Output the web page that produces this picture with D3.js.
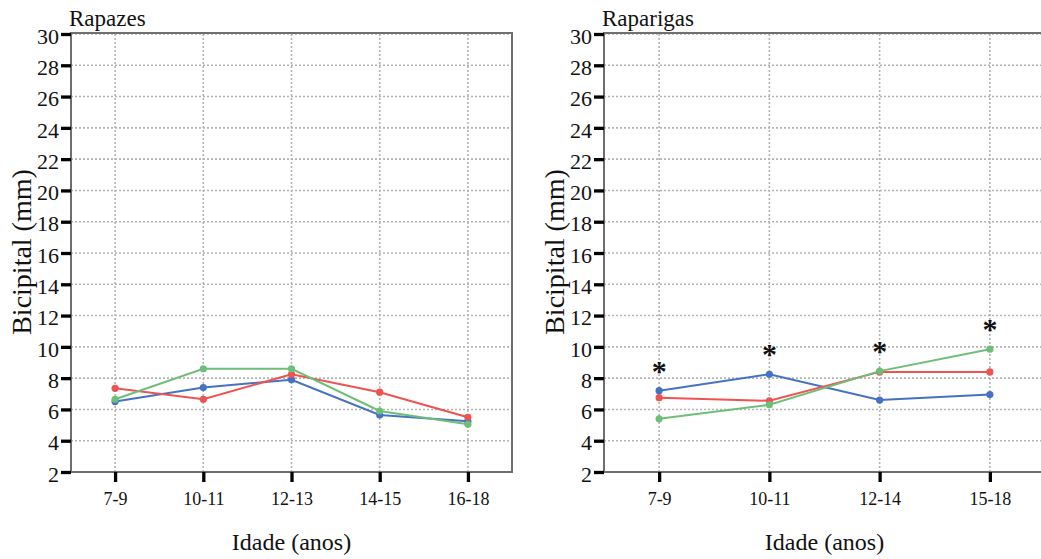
<!DOCTYPE html>
<html><head><meta charset="utf-8">
<script src="https://cdn.jsdelivr.net/npm/d3@7"></script>
</head>
<body style="margin:0;background:#fff"><svg id="chart" width="1041" height="559"></svg>
<script>
const yTicks = [2,4,6,8,10,12,14,16,18,20,22,24,26,28,30];

const boysTitle = "Rapazes";
const boysCategories = ["7-9","10-11","12-13","14-15","16-18"];
const boysBlue  = [6.5, 7.4, 7.9, 5.65, 5.25];
const boysRed   = [7.35, 6.65, 8.25, 7.1, 5.5];
const boysGreen = [6.65, 8.6, 8.6, 5.9, 5.05];
const boysStars = [false,false,false,false,false];

const girlsTitle = "Raparigas";
const girlsCategories = ["7-9","10-11","12-14","15-18"];
const girlsBlue  = [7.2, 8.25, 6.6, 6.95];
const girlsRed   = [6.75, 6.55, 8.4, 8.4];
const girlsGreen = [5.4, 6.3, 8.45, 9.85];
const girlsStars = [true,true,true,true];

const yLabel = "Bicipital (mm)";
const xLabel = "Idade (anos)";
const colors = {blue:"#4472C4", red:"#EF5350", green:"#6DBF78"};
const FONT = "Liberation Serif";

const svg = d3.select("#chart");

function panel(left, title, cats, series, stars){
  const W = 441, top = 34, bottom = 472;
  const g = svg.append("g");
  const x = d3.scalePoint().domain(cats).range([left, left+W]).padding(0.5);
  const y = d3.scaleLinear().domain([2,30]).range([bottom, top]);

  // grid
  g.append("g").selectAll("line").data(yTicks).join("line")
    .attr("x1", left).attr("x2", left+W).attr("y1", d=>y(d)).attr("y2", d=>y(d))
    .attr("stroke","#b4b4b4").attr("stroke-width",1.6).attr("stroke-dasharray","2,2");
  g.append("g").selectAll("line").data(cats).join("line")
    .attr("x1", d=>x(d)).attr("x2", d=>x(d)).attr("y1", top).attr("y2", bottom)
    .attr("stroke","#b4b4b4").attr("stroke-width",1.6).attr("stroke-dasharray","2,2");

  // frame
  g.append("rect").attr("x",left).attr("y",top-1).attr("width",W).attr("height",bottom-top+1)
    .attr("fill","none").attr("stroke","#6e6e6e").attr("stroke-width",2);

  // y axis
  const ya = g.append("g").attr("transform",`translate(${left},0)`)
    .call(d3.axisLeft(y).tickValues(yTicks).tickSize(10).tickPadding(2));
  ya.select(".domain").remove();
  ya.selectAll(".tick line").attr("stroke","#000").attr("stroke-width",3.3);
  ya.selectAll(".tick text").style("font-family",FONT).style("font-size","22px").attr("fill","#111").attr("dy","0.42em");

  // x axis
  const xa = g.append("g").attr("transform",`translate(0,${bottom})`)
    .call(d3.axisBottom(x).tickSize(10).tickPadding(10));
  xa.select(".domain").remove();
  xa.selectAll(".tick line").attr("stroke","#000").attr("stroke-width",3.3);
  xa.selectAll(".tick text").style("font-family",FONT).style("font-size","18px").attr("fill","#111");

  // lines
  const line = d3.line().x((d,i)=>x(cats[i])).y(d=>y(d));
  series.forEach(s=>{
    g.append("path").datum(s.values).attr("d",line).attr("fill","none")
      .attr("stroke",s.color).attr("stroke-width",2);
  });
  series.forEach(s=>{
    g.append("g").selectAll("circle").data(s.values).join("circle")
      .attr("cx",(d,i)=>x(cats[i])).attr("cy",d=>y(d)).attr("r",3.6).attr("fill",s.color);
  });

  // significance stars
  g.append("g").selectAll("text").data(cats.filter((c,i)=>stars[i])).join("text")
    .attr("x", d=>x(d))
    .attr("y", d=>{const i=cats.indexOf(d); return y(d3.max(series,s=>s.values[i])) - 10;})
    .attr("text-anchor","middle").style("font-family",FONT).style("font-size","30px")
    .style("font-weight","bold").attr("fill","#111").text("*");

  // titles
  g.append("text").attr("x",left-2).attr("y",26).style("font-family",FONT).style("font-size","23px")
    .attr("fill","#111").text(title);
  g.append("text").attr("x",left+W/2).attr("y",550).attr("text-anchor","middle")
    .style("font-family",FONT).style("font-size","24px").attr("fill","#111").text(xLabel);
  g.append("text").attr("transform",`translate(${left-40},${(top+bottom)/2-1}) rotate(-90)`)
    .attr("text-anchor","middle").style("font-family",FONT).style("font-size","28px")
    .attr("fill","#111").text(yLabel);
}

panel(71, boysTitle, boysCategories, [
  {values:boysBlue,color:colors.blue},
  {values:boysRed,color:colors.red},
  {values:boysGreen,color:colors.green}], boysStars);
panel(604, girlsTitle, girlsCategories, [
  {values:girlsBlue,color:colors.blue},
  {values:girlsRed,color:colors.red},
  {values:girlsGreen,color:colors.green}], girlsStars);
</script></body></html>
